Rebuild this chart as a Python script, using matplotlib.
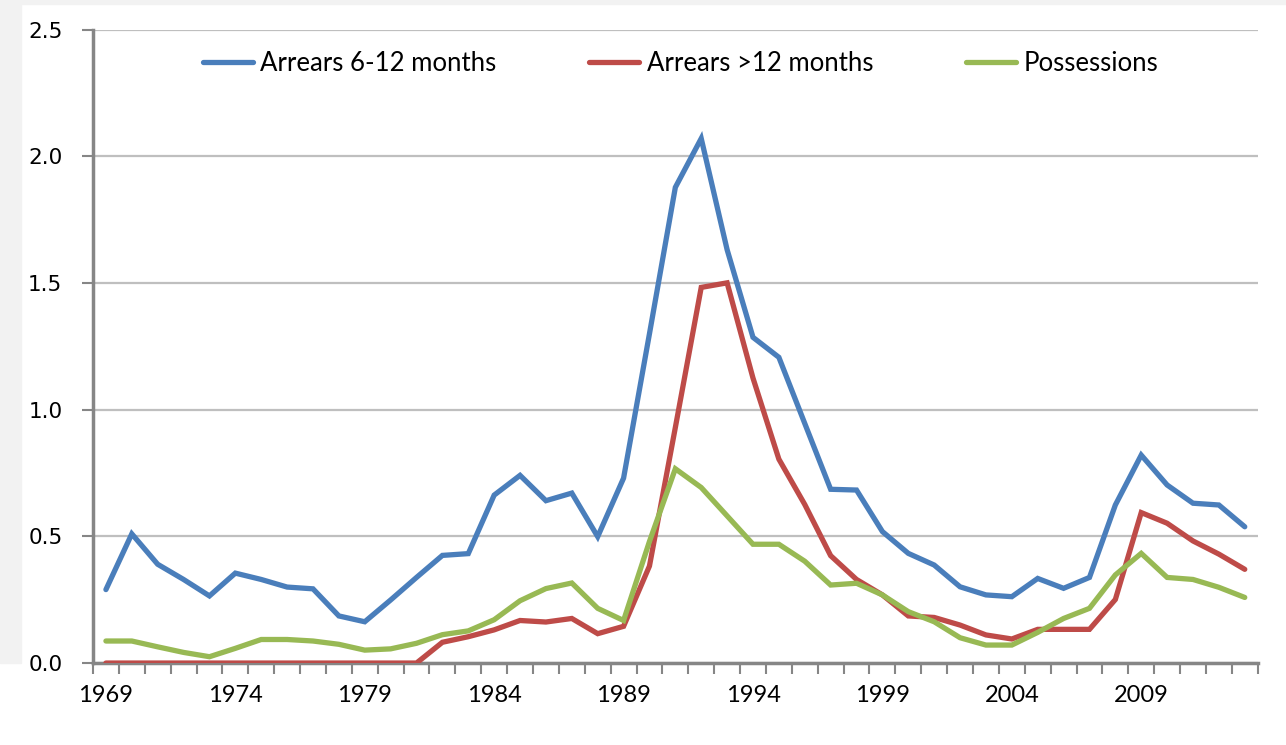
import matplotlib
matplotlib.use("Agg")
import matplotlib.pyplot as plt
from matplotlib.patches import Rectangle
from matplotlib.ticker import FixedLocator, FormatStrFormatter

years = list(range(1969, 2014))

arrears_6_12 = [0.29, 0.51, 0.39, 0.33, 0.265, 0.355, 0.33, 0.30, 0.293, 0.186,
                0.163, 0.249, 0.338, 0.425, 0.432, 0.663, 0.741, 0.641, 0.671, 0.499,
                0.73, 1.30, 1.878, 2.071, 1.632, 1.286, 1.207, 0.946, 0.686, 0.683,
                0.519, 0.433, 0.387, 0.301, 0.269, 0.262, 0.334, 0.295, 0.338, 0.624,
                0.821, 0.703, 0.631, 0.624, 0.538]

arrears_12 = [0, 0, 0, 0, 0, 0, 0, 0, 0, 0,
              0, 0, 0, 0.082, 0.104, 0.131, 0.168, 0.162, 0.176, 0.116,
              0.145, 0.383, 0.93, 1.483, 1.501, 1.125, 0.805, 0.626, 0.424, 0.330,
              0.269, 0.186, 0.180, 0.150, 0.111, 0.095, 0.133, 0.133, 0.133, 0.251,
              0.594, 0.552, 0.482, 0.430, 0.370]

possessions = [0.087, 0.087, 0.064, 0.042, 0.025, 0.058, 0.093, 0.093, 0.087, 0.074,
               0.051, 0.056, 0.078, 0.112, 0.127, 0.171, 0.246, 0.294, 0.316, 0.216,
               0.168, 0.48, 0.767, 0.693, 0.581, 0.469, 0.469, 0.402, 0.308, 0.315,
               0.269, 0.203, 0.163, 0.100, 0.071, 0.071, 0.121, 0.176, 0.216, 0.348,
               0.433, 0.338, 0.330, 0.299, 0.259]

series_names = ["Arrears 6-12 months", "Arrears >12 months", "Possessions"]
colors = ["#4a7ebb", "#be4b48", "#98b954"]

fig = plt.figure(figsize=(12.86, 7.45), dpi=100)
# light grey frame strips like the screenshot
fig.patches.append(Rectangle((0, 0.11), 0.016, 0.89, transform=fig.transFigure,
                             color="#f2f2f2", zorder=0))
fig.patches.append(Rectangle((0, 0.995), 1, 0.005, transform=fig.transFigure,
                             color="#f2f2f2", zorder=0))

ax = fig.add_axes([0.0723, 0.110, 0.9057, 0.850])
ax.set_facecolor("none")

idx = list(range(len(years)))
for vals, name, c in zip([arrears_6_12, arrears_12, possessions], series_names, colors):
    ax.plot(idx, vals, color=c, lw=3.8, label=name, solid_joinstyle="miter",
            solid_capstyle="round", zorder=3)

ax.set_xlim(-0.5, len(years) - 0.5)
ax.set_ylim(0, 2.5)

# y axis
ax.set_yticks([0, 0.5, 1.0, 1.5, 2.0, 2.5])
ax.yaxis.set_major_formatter(FormatStrFormatter("%.1f"))
ax.grid(axis="y", color="#bfbfbf", lw=1.6, zorder=1)
ax.tick_params(axis="y", length=8, width=1.5, color="#868686", pad=14,
               labelsize=15.5, labelcolor="black")
for lab in ax.get_yticklabels():
    lab.set_family("DejaVu Sans")

# x axis: labels every 5 years, tick marks between every category
ax.set_xticks(idx[::5])
ax.set_xticklabels([str(y) for y in years[::5]])
ax.xaxis.set_minor_locator(FixedLocator([i - 0.5 for i in range(len(years) + 1)]))
ax.tick_params(axis="x", which="major", length=0, pad=16, labelsize=17)
ax.tick_params(axis="x", which="minor", length=8, width=1.5, color="#868686")
for lab in ax.get_xticklabels():
    lab.set_family("Lato")

for s in ["top", "right"]:
    ax.spines[s].set_visible(False)
ax.spines["left"].set_color("#868686")
ax.spines["left"].set_linewidth(2.5)
ax.spines["bottom"].set_color("#868686")
ax.spines["bottom"].set_linewidth(2.5)
ax.spines["left"].set_zorder(4)

leg = ax.legend(loc="upper center", bbox_to_anchor=(0.5045, 1.003), ncol=3, frameon=False,
                handlelength=1.95, handletextpad=0.3, columnspacing=3.6,
                prop={"family": "Lato", "size": 18.5})

fig.savefig("out.png", dpi=100)
